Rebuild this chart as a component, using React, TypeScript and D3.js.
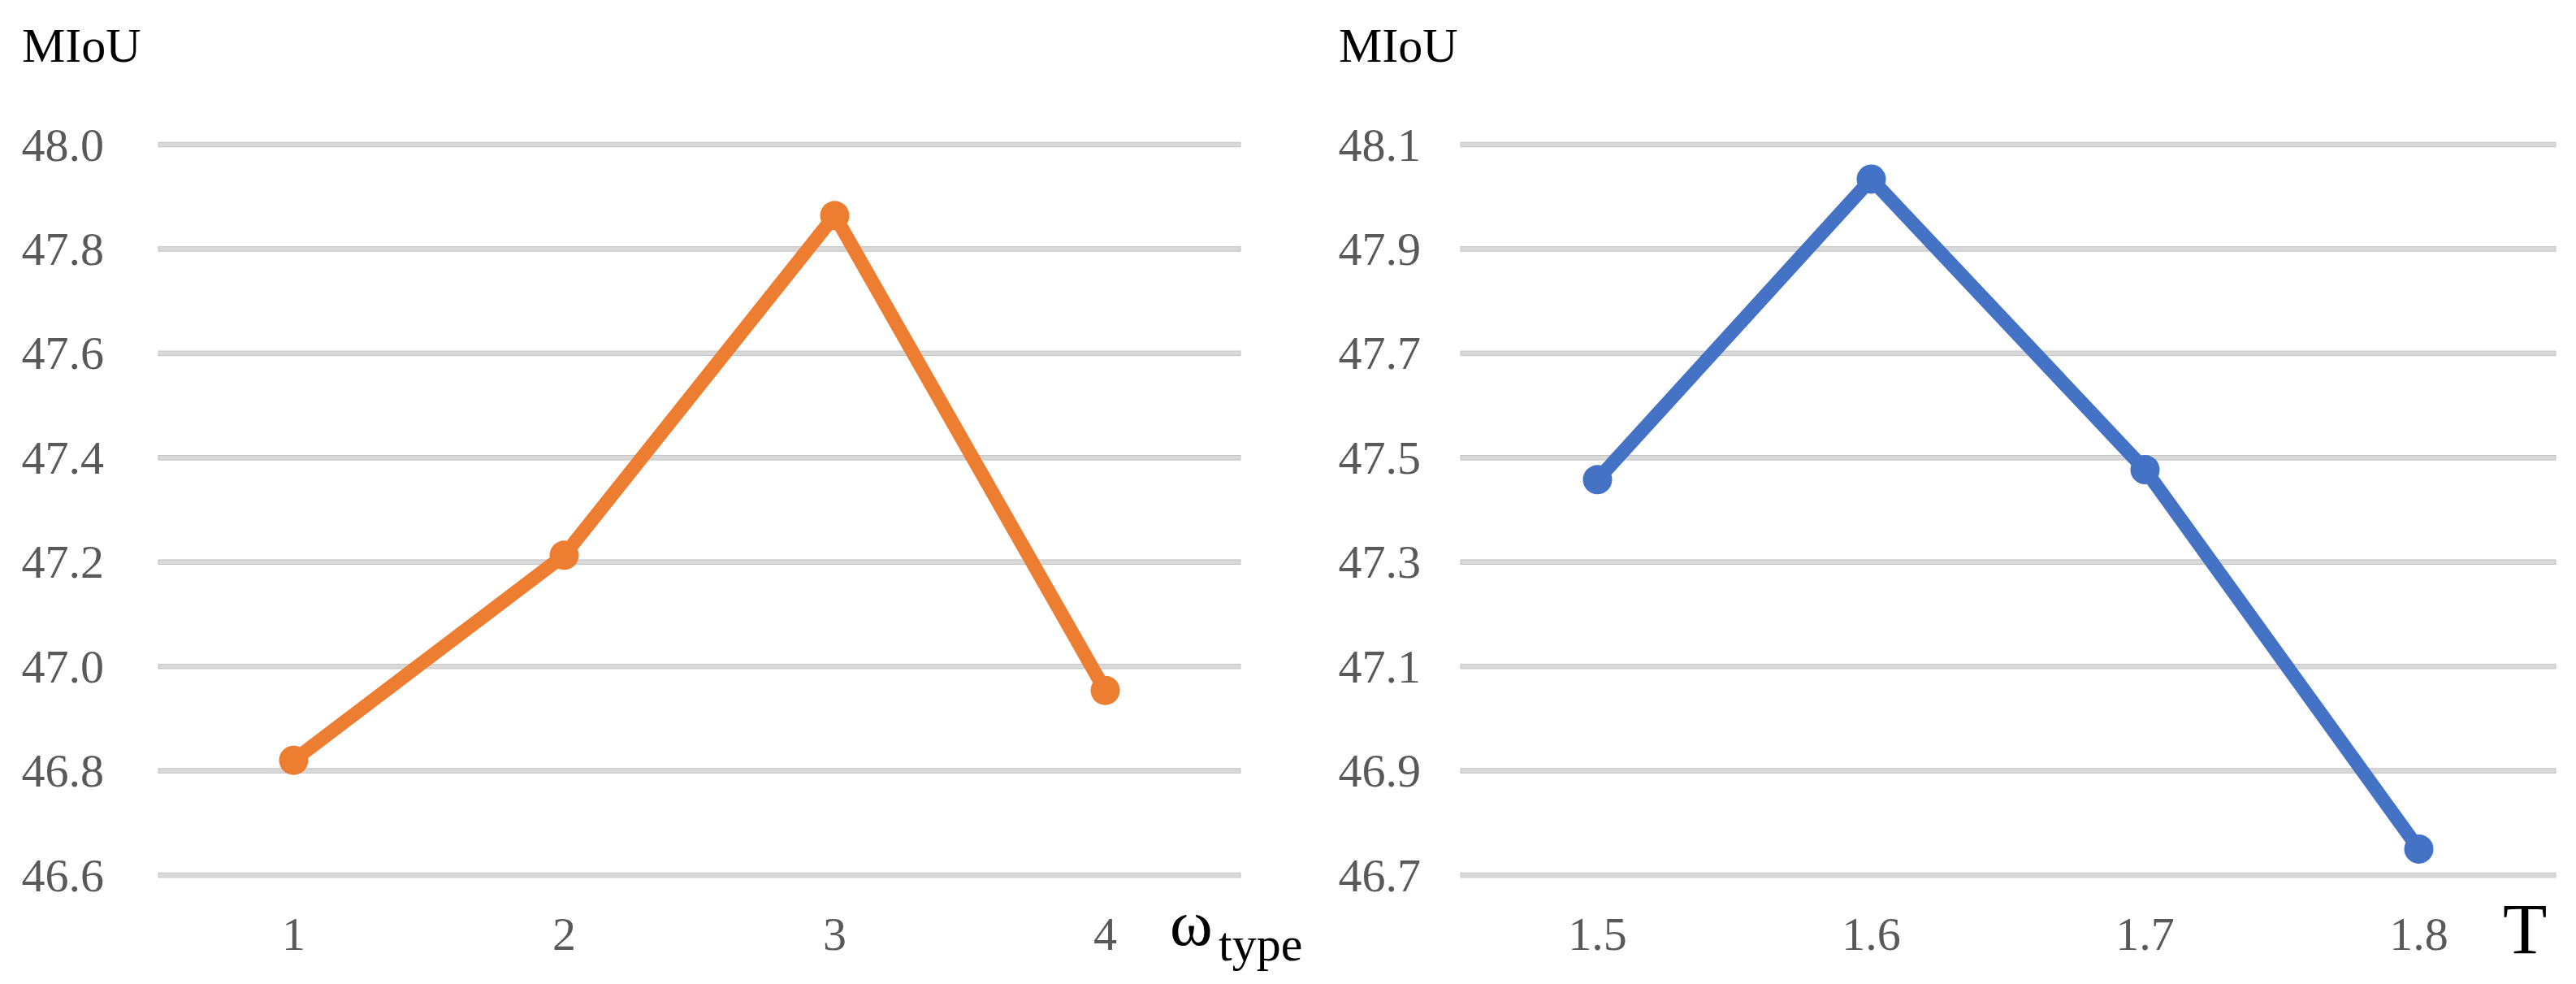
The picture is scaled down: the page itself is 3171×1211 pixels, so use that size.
import React from "react";
import * as d3 from "d3";

const leftCategories = ["1", "2", "3", "4"];
const leftValues = [46.82, 47.213, 47.864, 46.954];
const leftTicks = [46.6, 46.8, 47.0, 47.2, 47.4, 47.6, 47.8, 48.0];

const rightCategories = ["1.5", "1.6", "1.7", "1.8"];
const rightValues = [47.458, 48.034, 47.477, 46.75];
const rightTicks = [46.7, 46.9, 47.1, 47.3, 47.5, 47.7, 47.9, 48.1];

const W = 3171;
const H = 1211;
const FONT = "'Liberation Serif', 'Times New Roman', serif";

type PanelProps = {
  cats: string[];
  vals: number[];
  ticks: number[];
  x0: number;
  x1: number;
  labelEnd: number;
  titleX: number;
  color: string;
};

function Panel({ cats, vals, ticks, x0, x1, labelEnd, titleX, color }: PanelProps) {
  const y = d3
    .scaleLinear()
    .domain([ticks[0], ticks[ticks.length - 1]])
    .range([1077, 178]);
  const x = d3.scaleBand<string>().domain(cats).range([x0, x1]).padding(0);
  const cx = (c: string) => (x(c) as number) + x.bandwidth() / 2;
  const line = d3
    .line<number>()
    .x((_, i) => cx(cats[i]))
    .y((d) => y(d));
  return (
    <g>
      <text x={titleX} y={76} fontFamily={FONT} fontSize={60} fill="#000">
        MIoU
      </text>
      {ticks.map((t) => (
        <g key={t}>
          <rect
            x={x0}
            y={y(t) - 2.8}
            width={x1 - x0}
            height={5.6}
            fill="#D9D9D9"
            stroke="#C4C4C4"
            strokeWidth={1}
          />
          <text
            x={labelEnd}
            y={y(t)}
            textAnchor="end"
            dominantBaseline="central"
            fontFamily={FONT}
            fontSize={58}
            fill="#595959"
          >
            {t.toFixed(1)}
          </text>
        </g>
      ))}
      {cats.map((c) => (
        <text
          key={c}
          x={cx(c)}
          y={1169}
          textAnchor="middle"
          fontFamily={FONT}
          fontSize={58}
          fill="#595959"
        >
          {c}
        </text>
      ))}
      <path
        d={line(vals) || ""}
        fill="none"
        stroke={color}
        strokeWidth={17}
        strokeLinejoin="round"
        strokeLinecap="round"
      />
      {vals.map((v, i) => (
        <circle key={i} cx={cx(cats[i])} cy={y(v)} r={18} fill={color} />
      ))}
    </g>
  );
}

export default function App() {
  return (
    <svg
      width={W}
      height={H}
      viewBox={`0 0 ${W} ${H}`}
      style={{ position: "absolute", left: 0, top: 0, background: "#fff" }}
    >
      <rect x={0} y={0} width={W} height={H} fill="#fff" />
      <Panel
        cats={leftCategories}
        vals={leftValues}
        ticks={leftTicks}
        x0={195}
        x1={1527}
        labelEnd={128}
        titleX={27}
        color="#ED7D31"
      />
      <Panel
        cats={rightCategories}
        vals={rightValues}
        ticks={rightTicks}
        x0={1798}
        x1={3146}
        labelEnd={1749}
        titleX={1648}
        color="#4472C4"
      />
      <text x={1440} y={1163} fontFamily={FONT} fontSize={80} fill="#000">
        ω
      </text>
      <text x={1500} y={1182} fontFamily={FONT} fontSize={60} fill="#000">
        type
      </text>
      <text x={3081} y={1173} fontFamily={FONT} fontSize={89} fill="#000">
        T
      </text>
    </svg>
  );
}
